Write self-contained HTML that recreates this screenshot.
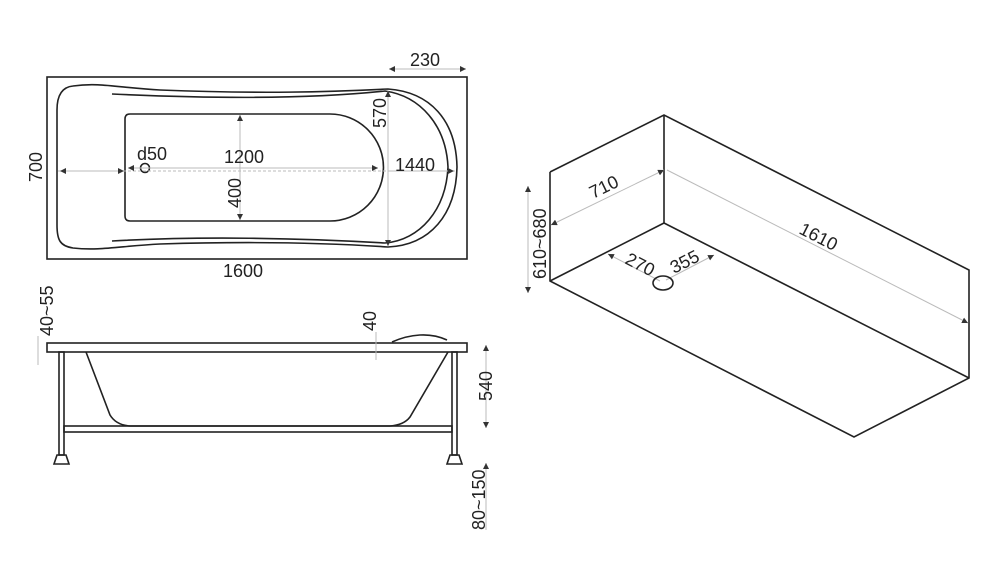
<!DOCTYPE html>
<html><head><style>
body{margin:0;background:#fff}
svg{display:block}
text{font-family:"Liberation Sans",Arial,sans-serif;font-size:18px;fill:#222}
.k{stroke:#222;fill:none;stroke-width:1.6}
.g{stroke:#bbb;fill:none;stroke-width:1}
</style></head><body>
<svg width="1000" height="585" viewBox="0 0 1000 585">
<defs><marker id="a" viewBox="0 0 6 6" refX="6" refY="3" markerWidth="6" markerHeight="6" orient="auto-start-reverse"><path d="M0,0L6,3L0,6z" fill="#333"/></marker></defs>
<!-- top view -->
<rect x="47" y="77" width="420" height="182" class="k" stroke-width="2"/>
<path class="k" d="M73,86 C100,82 120,88 160,90 C260,94 330,92 388,89 C430,92 456,120 457,167 C456,215 430,245 388,247 C330,243 260,241 160,244 C120,246 100,251 73,248 C60,246 57,240 57,225 L57,110 C57,95 62,87 73,86Z"/>
<path class="k" d="M112,94 C200,98 300,100 385,91 C420,96 446,125 448,167 C446,210 420,240 385,243 C300,238 200,236 112,241" stroke-width="1"/>
<path class="k" d="M130,114 L330,114 A53,53 0 0 1 330,221 L130,221 Q125,221 125,216 L125,119 Q125,114 130,114Z"/>
<circle cx="145" cy="168" r="4.5" class="k" stroke-width="1"/>
<line x1="58" y1="171" x2="455" y2="171" class="g" stroke-dasharray="3,2"/>
<line x1="60" y1="171" x2="124" y2="171" class="g" marker-start="url(#a)" marker-end="url(#a)"/>
<line x1="128" y1="168" x2="378" y2="168" class="g" marker-start="url(#a)" marker-end="url(#a)"/>
<line x1="389" y1="171" x2="454" y2="171" class="g" marker-end="url(#a)"/>
<line x1="240" y1="115" x2="240" y2="220" class="g" marker-start="url(#a)" marker-end="url(#a)"/>
<line x1="388" y1="91" x2="388" y2="246" class="g" marker-start="url(#a)" marker-end="url(#a)"/>
<line x1="389" y1="69" x2="466" y2="69" class="g" marker-start="url(#a)" marker-end="url(#a)"/>
<text x="410" y="66">230</text>
<text x="137" y="160">d50</text>
<text x="224" y="163">1200</text>
<text x="395" y="171">1440</text>
<text transform="translate(241,208) rotate(-90)">400</text>
<text transform="translate(386,128) rotate(-90)">570</text>
<text transform="translate(42,182) rotate(-90)">700</text>
<text x="223" y="277">1600</text>
<!-- side view -->
<rect x="47" y="343" width="420" height="9" class="k" stroke-width="2"/>
<path class="k" d="M392,342 C410,334 430,332 447,340"/>
<path class="k" d="M86,352 L110,415 Q116,425 130,426 L390,426 Q404,425 410,417 L448,352"/>
<rect x="59" y="352" width="5" height="103" class="k" stroke-width="1.2"/>
<rect x="452" y="352" width="5" height="103" class="k" stroke-width="1.2"/>
<rect x="64" y="426" width="388" height="6" class="k" stroke-width="1.2"/>
<path class="k" d="M57,455 L66,455 L69,464 L54,464Z" stroke-width="1.2"/>
<path class="k" d="M450,455 L459,455 L462,464 L447,464Z" stroke-width="1.2"/>
<line x1="376" y1="332" x2="376" y2="360" class="g"/>
<line x1="486" y1="345" x2="486" y2="428" class="g" marker-start="url(#a)" marker-end="url(#a)"/>
<line x1="486" y1="463" x2="486" y2="530" class="g" marker-start="url(#a)"/>
<line x1="38" y1="336" x2="38" y2="365" class="g"/>
<text transform="translate(53,336) rotate(-90)">40~55</text>
<text transform="translate(376,331) rotate(-90)">40</text>
<text transform="translate(492,401) rotate(-90)">540</text>
<text transform="translate(485,530) rotate(-90)">80~150</text>
<!-- iso view -->
<g class="k">
<polyline points="550,172 664,115 969,270 969,378 854,437 550,281 550,172"/>
<line x1="664" y1="115" x2="664" y2="223"/>
<line x1="664" y1="223" x2="550" y2="281"/>
<line x1="664" y1="223" x2="969" y2="378"/>
</g>
<line x1="551" y1="225" x2="664" y2="170" class="g" marker-start="url(#a)" marker-end="url(#a)"/>
<line x1="667" y1="170" x2="968" y2="323" class="g" marker-end="url(#a)"/>
<line x1="528" y1="186" x2="528" y2="293" class="g" marker-start="url(#a)" marker-end="url(#a)"/>
<line x1="608" y1="254" x2="660" y2="281" class="g" marker-start="url(#a)"/>
<line x1="666" y1="280" x2="714" y2="255" class="g" marker-end="url(#a)"/>
<ellipse cx="663" cy="283" rx="10" ry="7" class="k" stroke-width="1.2"/>
<text transform="translate(593,199) rotate(-26)">710</text>
<text transform="translate(798,233) rotate(27)">1610</text>
<text transform="translate(546,279) rotate(-90)">610~680</text>
<text transform="translate(624,263) rotate(27)">270</text>
<text transform="translate(674,274) rotate(-27)">355</text>
</svg>
</body></html>
